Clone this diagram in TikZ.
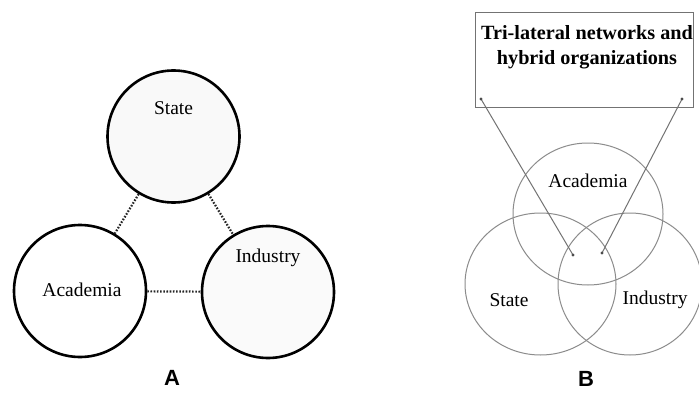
\documentclass[tikz,border=0pt]{standalone}
\usepackage{fontspec}
\setmainfont{Liberation Serif}
\newfontfamily\labelfont{Liberation Sans}
\usetikzlibrary{shapes.geometric}
\begin{document}
\begin{tikzpicture}[x=1pt,y=-1pt,
  txt/.style={font=\fontsize{19.5}{23}\selectfont, inner sep=0pt},
  bigcirc/.style={circle, draw=black, line width=2.6pt, minimum size=132pt, inner sep=0pt},
  link/.style={line width=2.2pt, dash pattern=on 1.6pt off 1.6pt, black!85},
  venn/.style={draw=black!45, line width=1pt},
  pointer/.style={draw=black!55, line width=1pt},
  tipdot/.style={circle, fill=black!70, minimum size=3.2pt, inner sep=0pt},
  panel/.style={font=\labelfont\bfseries\fontsize{22}{24}\selectfont, inner sep=0pt}]
\useasboundingbox (0,0) rectangle (699,396);
\fill[white] (0,0) rectangle (699,396);

% ---- Panel A: three separate spheres joined by dotted ties ----
\node[bigcirc, fill=gray!5] (stateA) at (173.5,136.5) {};
\node[bigcirc, fill=white] (acadA) at (80,291) {};
\node[bigcirc, fill=gray!4] (indA) at (268,292) {};
\node[txt] at (173.5,108) {State};
\node[txt] at (82,290) {Academia};
\node[txt] at (268,258) {Industry};
\draw[link] (stateA) -- (acadA);
\draw[link] (stateA) -- (indA);
\draw[link] (acadA) -- (indA);
\node[panel] (labA) at (172,378) {A};

% ---- Panel B: overlapping spheres with hybrid organisations ----
\node[ellipse, venn, minimum width=150pt, minimum height=142pt] (acadB) at (588,214) {};
\node[ellipse, venn, minimum width=151pt, minimum height=142pt] (stateB) at (540.5,284) {};
\node[ellipse, venn, minimum width=144pt, minimum height=142pt] (indB) at (630,284) {};
\node[txt] at (588,181) {Academia};
\node[txt] at (509,300) {State};
\node[txt] at (655,300) {Industry};

\node[draw=black!55, line width=1pt, minimum width=218pt, minimum height=94pt, inner sep=0pt] (box) at (584,60) {};
\node[txt, font=\bfseries\fontsize{20.2}{25}\selectfont, align=center, anchor=north] (boxtext) at (587,25) {Tri-lateral networks and\\hybrid organizations};

\coordinate (pL) at (481,99);
\coordinate (pR) at (682,99);
\coordinate (cL) at (573,255);
\coordinate (cR) at (602,253);
\draw[pointer] (pL) -- (cL);
\draw[pointer] (pR) -- (cR);
\foreach \p in {pL,pR,cL,cR} \node[tipdot] at (\p) {};
\node[panel] (labB) at (586,379) {B};
\end{tikzpicture}
\end{document}
